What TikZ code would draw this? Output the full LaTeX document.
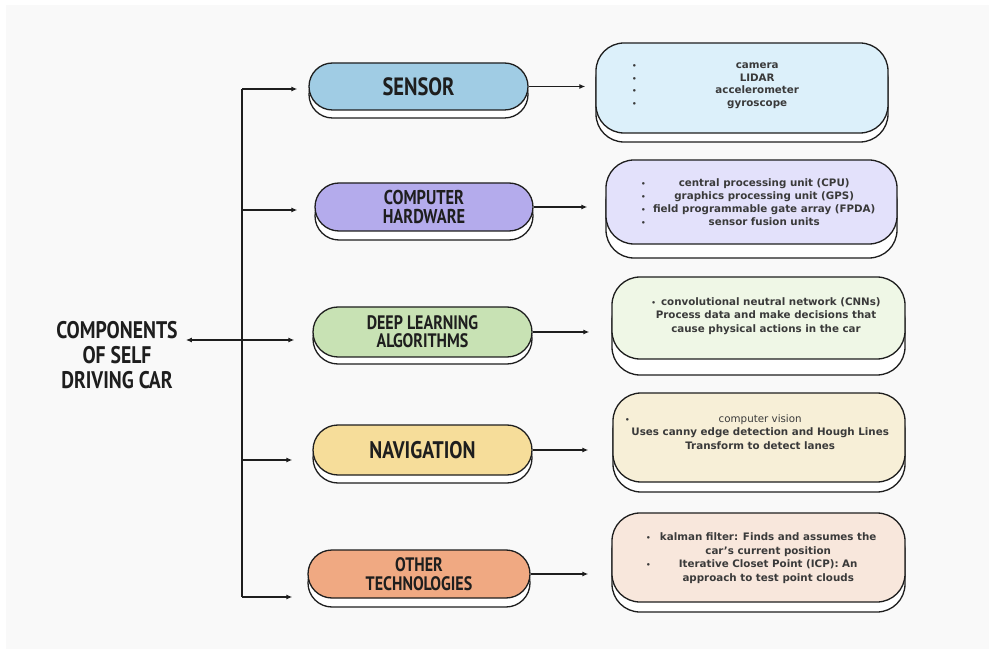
\documentclass[tikz,border=0pt]{standalone}
\usepackage{fontspec}
\setmainfont{DejaVu Sans}
\newfontfamily\pillfont[FakeStretch=0.82]{PT Sans}
\usetikzlibrary{shapes.misc,shadows,arrows.meta}
\definecolor{bgc}{HTML}{F9F9F9}
\definecolor{ink}{HTML}{1E1E1E}
\definecolor{txt}{HTML}{3A3A3A}
\definecolor{pSens}{HTML}{A0CCE4}
\definecolor{pHard}{HTML}{B4ABEC}
\definecolor{pDeep}{HTML}{C8E2B4}
\definecolor{pNav}{HTML}{F6DD9A}
\definecolor{pOth}{HTML}{F0A982}
\definecolor{cSens}{HTML}{DCF0FA}
\definecolor{cHard}{HTML}{E3E1FB}
\definecolor{cDeep}{HTML}{EFF7E6}
\definecolor{cNav}{HTML}{F7EFD7}
\definecolor{cOth}{HTML}{F8E7DC}
\newcommand\bl[2]{\makebox[14pt][l]{\scalebox{0.7}{\textbullet}}\makebox[#1][c]{#2}}
\newcommand\nb[2]{\makebox[14pt][l]{}\makebox[#1][c]{#2}}
\begin{document}
\begin{tikzpicture}[x=1pt,y=-1pt,
  pill/.style={rounded rectangle, draw=ink, line width=1.3pt, text=ink,
    font=\pillfont\bfseries, align=center, inner sep=0pt,
    copy shadow={shadow xshift=0pt, shadow yshift=-#1, fill=white, draw=ink}},
  card/.style={rectangle, rounded corners=28pt, draw=ink, line width=1.3pt,
    copy shadow={shadow xshift=0pt, shadow yshift=-#1, fill=white, draw=ink}},
  det/.style={font=\fontsize{10.3}{13.5}\selectfont\bfseries, text=txt, align=left, inner sep=0pt},
  arr/.style={draw=ink, line width=1.4pt, -{Latex[length=6pt,width=5pt]}},
  spine/.style={draw=ink, line width=1.4pt},
]
\useasboundingbox (0,0) rectangle (991,652);
\fill[bgc] (6,5) rectangle (989,649);

% title
\node[font=\pillfont\bfseries\fontsize{24}{25}\selectfont, text=ink, align=center, inner sep=0pt] (title) at (117,355)
  {COMPONENTS\\OF SELF\\DRIVING CAR};

% pills
\node[pill=8pt, fill=pSens, minimum width=219pt, minimum height=47pt, font=\pillfont\bfseries\fontsize{25}{25}\selectfont] (sensor) at (418.5,86.5) {SENSOR};
\node[pill=9pt, fill=pHard, minimum width=218pt, minimum height=48pt, font=\pillfont\bfseries\fontsize{20}{18.5}\selectfont] (hard) at (424,207) {COMPUTER\\HARDWARE};
\node[pill=7pt, fill=pDeep, minimum width=219pt, minimum height=50pt, font=\pillfont\bfseries\fontsize{19.5}{18}\selectfont] (deep) at (422.5,332) {DEEP LEARNING\\ALGORITHMS};
\node[pill=8pt, fill=pNav, minimum width=219pt, minimum height=50pt, font=\pillfont\bfseries\fontsize{24}{24}\selectfont] (nav) at (422.5,450) {NAVIGATION};
\node[pill=9pt, fill=pOth, minimum width=222pt, minimum height=48pt, font=\pillfont\bfseries\fontsize{19.5}{19.5}\selectfont] (other) at (419,574) {OTHER\\TECHNOLOGIES};

% cards
\node[card=9pt, fill=cSens, minimum width=292pt, minimum height=90pt] (sensord) at (742,88) {};
\node[card=14pt, fill=cHard, minimum width=291pt, minimum height=84pt] (hardd) at (751.5,202) {};
\node[card=16pt, fill=cDeep, minimum width=293pt, minimum height=82pt] (deepd) at (758.5,318) {};
\node[card=10pt, fill=cNav, minimum width=292pt, minimum height=89pt] (navd) at (759,437.5) {};
\node[card=10pt, fill=cOth, minimum width=293pt, minimum height=89pt] (otherd) at (758.5,557.5) {};

% card texts
\node[det, anchor=west, font=\fontsize{10.3}{12.5}\selectfont\bfseries] (sensort) at (632,85.5)
  {\bl{222pt}{camera}\\\bl{222pt}{LIDAR}\\\bl{222pt}{accelerometer}\\\bl{222pt}{gyroscope}};
\node[det, anchor=west, font=\fontsize{10.3}{13}\selectfont\bfseries] (hardt) at (641,202.5)
  {\bl{218pt}{central processing unit (CPU)}\\\bl{218pt}{graphics processing unit (GPS)}\\\bl{218pt}{field programmable gate array (FPDA)}\\\bl{218pt}{sensor fusion units}};
\node[det, align=center] (deept) at (766,316)
  {\scalebox{0.7}{\textbullet}\enspace convolutional neutral network (CNNs)\\Process data and make decisions that\\cause physical actions in the car};
\node[det, anchor=west] (navt) at (625,432)
  {\bl{242pt}{\mdseries computer vision}\\\nb{242pt}{Uses canny edge detection and Hough Lines}\\\nb{242pt}{Transform to detect lanes}};
\node[det, anchor=west] (othert) at (646,558)
  {\bl{216pt}{kalman filter: Finds and assumes the}\\\nb{216pt}{car's current position}\\\bl{216pt}{Iterative Closet Point (ICP): An}\\\nb{216pt}{approach to test point clouds}};

% spine and branches
\coordinate (b1) at (242,89);
\coordinate (b2) at (242,210);
\coordinate (b3) at (242,340);
\coordinate (b4) at (242,460);
\coordinate (b5) at (242,597);
\draw[spine] (b1) -- (b5);
\draw[arr, shorten >=11pt] (b1) -- (b1 -| sensor.west);
\draw[arr, shorten >=17pt] (b2) -- (b2 -| hard.west);
\draw[arr, shorten >=18pt] (b3) -- (b3 -| deep.west);
\draw[arr, shorten >=20pt] (b4) -- (b4 -| nav.west);
\draw[arr, shorten >=15pt] (b5) -- (b5 -| other.west);
\draw[arr, shorten >=8pt] (b3) -- (b3 -| title.east);

% pill to card
\draw[arr, shorten >=10pt] (sensor.east) -- (sensor.east -| sensord.west);
\draw[arr, shorten >=18pt] (hard.east) -- (hard.east -| hardd.west);
\draw[arr, shorten >=22pt] (deep.east) -- (deep.east -| deepd.west);
\draw[arr, shorten >=24pt] (nav.east) -- (nav.east -| navd.west);
\draw[arr, shorten >=23pt] (other.east) -- (other.east -| otherd.west);
\end{tikzpicture}
\end{document}
